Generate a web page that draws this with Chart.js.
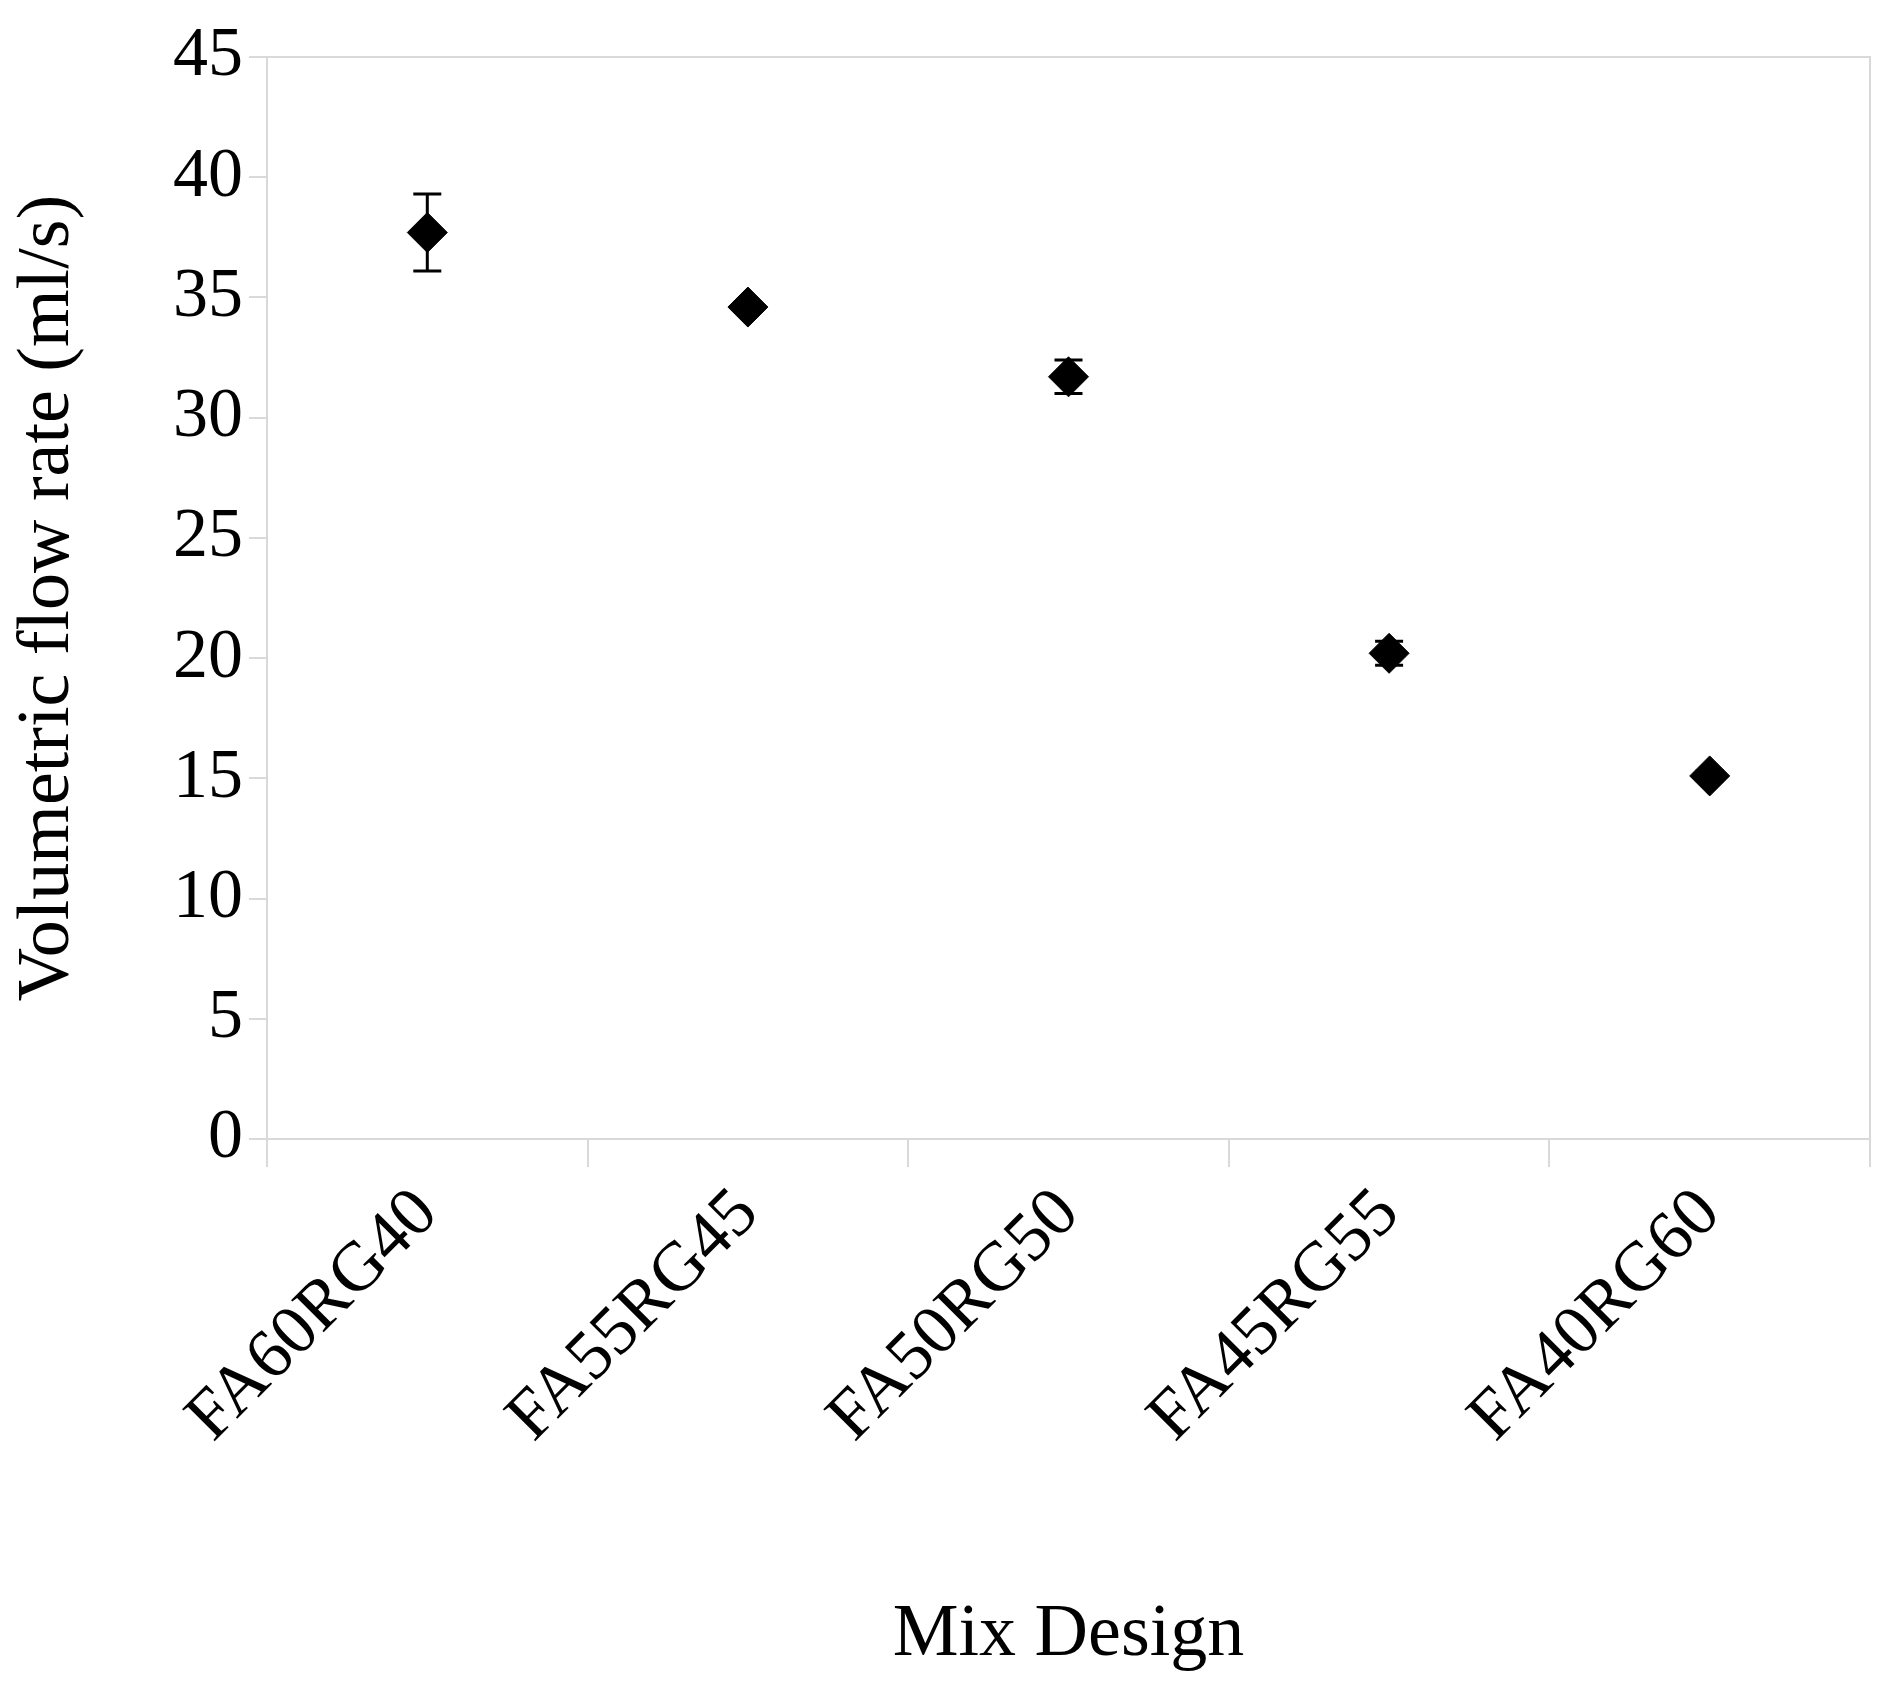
<!DOCTYPE html>
<html><head><script src="https://cdn.jsdelivr.net/npm/chart.js@4"></script>
<style>html,body{margin:0;background:#fff}</style></head>
<body><div style="width:1891px;height:1684px"><canvas id="c"></canvas></div>
<script>
const categories=["FA60RG40","FA55RG45","FA50RG50","FA45RG55","FA40RG60"];
const flowRate=[37.7,34.6,31.7,20.2,15.1];
const errorAmt=[1.6,0.2,0.7,0.5,0.2];
const yTicks=[0,5,10,15,20,25,30,35,40,45];
const F="'Liberation Serif','DejaVu Serif',serif";
const plug={id:'extra',
 beforeDatasetsDraw(ch){const {ctx,chartArea:a}=ch;ctx.save();ctx.strokeStyle='#d9d9d9';ctx.lineWidth=2;ctx.strokeRect(a.left,a.top,a.right-a.left,a.bottom-a.top);ctx.restore();},
 afterDatasetsDraw(ch){const {ctx}=ch;const x=ch.scales.x,y=ch.scales.y;ctx.save();ctx.strokeStyle='#000';ctx.lineWidth=3;
  flowRate.forEach((v,i)=>{const px=x.getPixelForValue(i),t=y.getPixelForValue(v+errorAmt[i]),b=y.getPixelForValue(v-errorAmt[i]);
   ctx.beginPath();ctx.moveTo(px,t);ctx.lineTo(px,b);ctx.moveTo(px-14,t);ctx.lineTo(px+14,t);ctx.moveTo(px-14,b);ctx.lineTo(px+14,b);ctx.stroke();});
  ctx.restore();}};
new Chart(document.getElementById('c'),{type:'line',
 data:{labels:categories,datasets:[{data:flowRate,showLine:false,pointStyle:'rectRot',pointRadius:20,pointHoverRadius:20,backgroundColor:'#000',borderColor:'#000'}]},
 options:{responsive:true,maintainAspectRatio:false,animation:false,
  layout:{padding:{top:57,right:14}},
  plugins:{legend:{display:false},tooltip:{enabled:false}},
  scales:{
   x:{offset:true,grid:{offset:true,drawOnChartArea:false,color:'#d9d9d9',lineWidth:2,tickLength:28},border:{color:'#d9d9d9',width:2},
      ticks:{color:'#000',font:{family:F,size:70},maxRotation:45,minRotation:45,padding:6},
      title:{display:true,text:'Mix Design',color:'#000',font:{family:F,size:74},padding:{top:10}},
      afterFit(s){s.height=545;}},
   y:{min:0,max:45,afterBuildTicks(s){s.ticks=yTicks.map(v=>({value:v}));},
      grid:{drawOnChartArea:false,color:'#d9d9d9',lineWidth:2,tickLength:18},border:{color:'#d9d9d9',width:2},
      ticks:{color:'#000',font:{family:F,size:70},padding:6},
      title:{display:true,text:'Volumetric flow rate (ml/s)',color:'#000',font:{family:F,size:74},padding:{bottom:2}},
      afterFit(s){s.width=267;}}
  }},plugins:[plug]});
</script></body></html>
